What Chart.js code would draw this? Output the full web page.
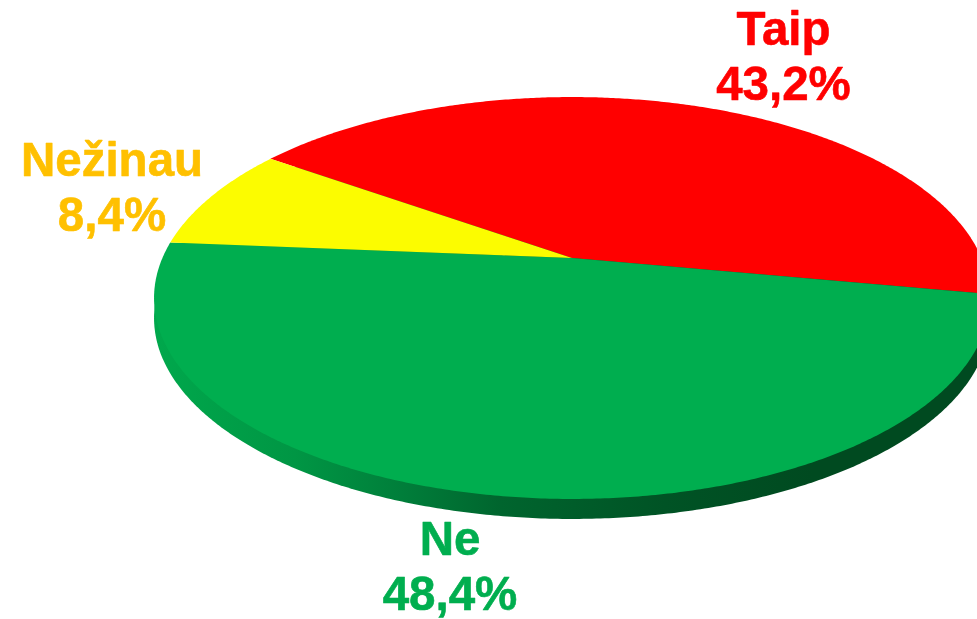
<!DOCTYPE html>
<html>
<head>
<meta charset="utf-8">
<style>
html,body{margin:0;padding:0;background:#fff;overflow:hidden}
#wrap{position:absolute;left:0;top:0;width:977px;height:619px}
</style>
<script src="https://cdn.jsdelivr.net/npm/chart.js@4"></script>
</head>
<body>
<div id="wrap"><canvas id="c" width="977" height="619"></canvas></div>
<script>
const categories = ["Taip", "Ne", "Nežinau"];
const values = [43.2, 48.4, 8.4];
const valueLabels = ["43,2%", "48,4%", "8,4%"];
const sliceColors = ["#FF0000", "#00AE4F", "#FCFC00"];
const labelColors = ["#FF0000", "#00AE4F", "#FFC000"];

// Styling / layout of the tilted 3D look
const apex = {x: 572, y: 258};
const tilt = {A: 409.6, B: 193, k: -0.199};
const depth = 20;
const startRotationDeg = 304.9;
const labelCenters = [[783.5, 45], [450, 555], [112, 176]];
const lineGap = 55;
const sideStops = [[0, "#00A84C"], [0.17, "#009644"], [0.30, "#007E3A"], [0.42, "#00652E"], [0.62, "#005325"], [0.8, "#004A20"], [1, "#004A20"]];

function rim(a) {
  const c = Math.cos(a), s = Math.sin(a), w = 1 + tilt.k * s;
  return [apex.x + tilt.A * c / w, apex.y + tilt.B * s / w];
}
function slicePath(ctx, start, end, dy) {
  ctx.beginPath();
  ctx.moveTo(apex.x, apex.y + dy);
  const n = Math.max(8, Math.ceil((end - start) * 120));
  for (let i = 0; i <= n; i++) {
    const p = rim(start + (end - start) * i / n);
    ctx.lineTo(p[0], p[1] + dy);
  }
  ctx.closePath();
}

const tiltedPie = {
  id: "tiltedPie",
  beforeDatasetDraw(chart, args) {
    const ctx = chart.ctx, arcs = args.meta.data;
    const grad = ctx.createLinearGradient(155, 0, 977, 0);
    sideStops.forEach(s => grad.addColorStop(s[0], s[1]));
    ctx.save();
    arcs.forEach(arc => {
      slicePath(ctx, arc.startAngle, arc.endAngle, depth);
      ctx.fillStyle = grad;
      ctx.fill();
    });
    arcs.forEach((arc, i) => {
      slicePath(ctx, arc.startAngle, arc.endAngle, 0);
      ctx.fillStyle = sliceColors[i];
      ctx.fill();
    });
    ctx.restore();
    return false;
  },
  afterDraw(chart) {
    const ctx = chart.ctx;
    ctx.save();
    ctx.font = "bold 47.5px 'Liberation Sans', Arial, sans-serif";
    ctx.textAlign = "center";
    ctx.textBaseline = "alphabetic";
    ctx.lineWidth = 0.6;
    ctx.lineJoin = "round";
    categories.forEach((name, i) => {
      const x = labelCenters[i][0], y = labelCenters[i][1];
      ctx.fillStyle = ctx.strokeStyle = labelColors[i];
      ctx.fillText(name, x, y);
      ctx.strokeText(name, x, y);
      ctx.fillText(valueLabels[i], x, y + lineGap);
      ctx.strokeText(valueLabels[i], x, y + lineGap);
    });
    ctx.restore();
  }
};

new Chart(document.getElementById("c"), {
  type: "pie",
  data: {labels: categories, datasets: [{data: values, backgroundColor: sliceColors, borderWidth: 0}]},
  options: {
    responsive: false,
    animation: false,
    rotation: startRotationDeg,
    plugins: {legend: {display: false}, tooltip: {enabled: false}}
  },
  plugins: [tiltedPie]
});
</script>
</body>
</html>
